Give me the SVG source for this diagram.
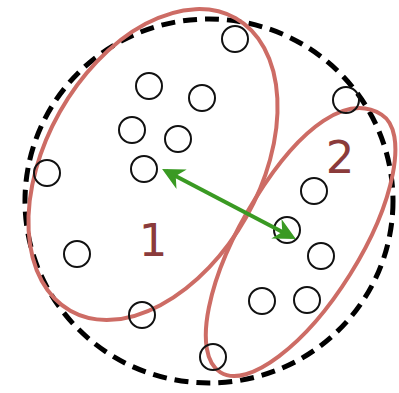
<svg xmlns="http://www.w3.org/2000/svg" width="399" height="393" viewBox="0 0 399 393">
<defs>
<style>
.pt{fill:none;stroke:#111;stroke-width:2}
.cl{fill:none;stroke:#CD6C65;stroke-width:4}
.lbl{font-family:"DejaVu Sans",sans-serif;font-size:45px;fill:#8B3B3B;text-anchor:middle}
</style>
<marker id="ah" viewBox="0 0 10 10" refX="8" refY="5" markerWidth="6" markerHeight="5.5" orient="auto-start-reverse" markerUnits="strokeWidth">
<path d="M0,0 L10,5 L0,10 L3,5 Z" fill="#3A9A23"/>
</marker>
</defs>
<rect width="399" height="393" fill="#fff"/>
<g id="universe">
<ellipse cx="209" cy="201" rx="184" ry="182" fill="none" stroke="#000" stroke-width="5" stroke-dasharray="14 8"/>
</g>
<g id="cluster1">
<ellipse class="cl" cx="0" cy="0" rx="168" ry="107" transform="translate(153 164.5) rotate(-60.5)"/>
<text class="lbl" x="153" y="256">1</text>
</g>
<g id="cluster2">
<path class="cl" transform="translate(301 243.5) rotate(-58)" d="M152 0 C152 32,84 58,0 58 C-84 58,-152 32,-152 0 C-152 -34.5,-77.2 -62.5,15 -62.5 C101.3 -62.5,152 -39.4,152 0 Z"/>
<text class="lbl" x="340" y="173">2</text>
</g>
<g id="points">
<circle id="p1" class="pt" cx="235" cy="39" r="13"/>
<circle id="p2" class="pt" cx="149" cy="86" r="13"/>
<circle id="p3" class="pt" cx="202" cy="98" r="13"/>
<circle id="p4" class="pt" cx="132" cy="130" r="13"/>
<circle id="p5" class="pt" cx="178" cy="139" r="13"/>
<circle id="p6" class="pt" cx="144" cy="169" r="13"/>
<circle id="p7" class="pt" cx="47" cy="173" r="13"/>
<circle id="p8" class="pt" cx="346" cy="100" r="13"/>
<circle id="p9" class="pt" cx="314" cy="191" r="13"/>
<circle id="p10" class="pt" cx="287" cy="230" r="13"/>
<circle id="p11" class="pt" cx="321" cy="256" r="13"/>
<circle id="p12" class="pt" cx="77" cy="254" r="13"/>
<circle id="p13" class="pt" cx="142" cy="315" r="13"/>
<circle id="p14" class="pt" cx="262" cy="301" r="13"/>
<circle id="p15" class="pt" cx="307" cy="300" r="13"/>
<circle id="p16" class="pt" cx="213" cy="357" r="13"/>
</g>
<g id="connectors">
<line x1="166" y1="171" x2="292" y2="237" stroke="#3A9A23" stroke-width="4" marker-start="url(#ah)" marker-end="url(#ah)"/>
</g>
</svg>
